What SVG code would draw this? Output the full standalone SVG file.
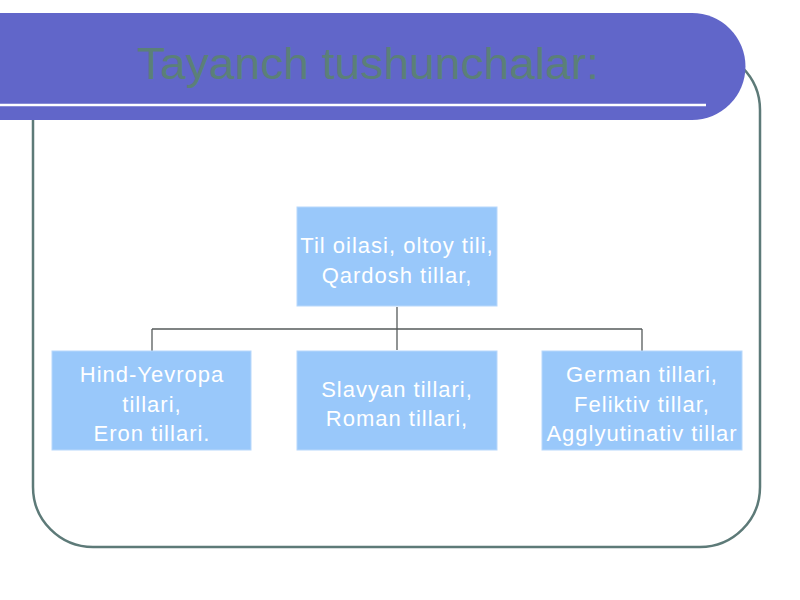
<svg xmlns="http://www.w3.org/2000/svg" width="800" height="600" viewBox="0 0 800 600">
<style>
.box{fill:#99c8fa;stroke:#b8d8fb;stroke-width:1}
.t{font-family:"Liberation Sans",Arial,sans-serif;font-size:22px;letter-spacing:1px;fill:#ffffff;text-anchor:middle}
.conn{stroke:#555a5a;stroke-width:1.3;fill:none}
</style>
<rect width="800" height="600" fill="#ffffff"/>
<rect id="frame" x="33" y="50" width="727" height="497" rx="60" ry="60" fill="none" stroke="#5d7a78" stroke-width="2.5"/>
<g id="titlebar">
<path d="M0 13 H692 A53.5 53.5 0 0 1 692 120 H0 Z" fill="#6166c9"/>
<line x1="0" y1="105" x2="706" y2="105" stroke="#ffffff" stroke-width="2.5"/>
<text x="368" y="79" font-family="'Liberation Sans',Arial,sans-serif" font-size="44" fill="#5b8078" text-anchor="middle" textLength="462" lengthAdjust="spacingAndGlyphs">Tayanch tushunchalar:</text>
</g>
<g id="connectors">
<line class="conn" x1="397" y1="307" x2="397" y2="350"/>
<line class="conn" x1="152" y1="329" x2="642" y2="329"/>
<line class="conn" x1="152" y1="329" x2="152" y2="351"/>
<line class="conn" x1="642" y1="329" x2="642" y2="351"/>
</g>
<g id="root">
<rect class="box" x="297" y="207" width="200" height="99"/>
<text class="t" x="397" y="253">Til oilasi, oltoy tili,</text>
<text class="t" x="397" y="283">Qardosh tillar,</text>
</g>
<g id="hind">
<rect class="box" x="52" y="351" width="199" height="99"/>
<text class="t" x="152" y="382">Hind-Yevropa</text>
<text class="t" x="152" y="412">tillari,</text>
<text class="t" x="152" y="441">Eron tillari.</text>
</g>
<g id="slavyan">
<rect class="box" x="297" y="351" width="200" height="99"/>
<text class="t" x="397" y="397">Slavyan tillari,</text>
<text class="t" x="397" y="426">Roman tillari,</text>
</g>
<g id="german">
<rect class="box" x="542" y="351" width="200" height="99"/>
<text class="t" x="642" y="382">German tillari,</text>
<text class="t" x="642" y="412">Feliktiv tillar,</text>
<text class="t" x="642" y="441">Agglyutinativ tillar</text>
</g>
</svg>
